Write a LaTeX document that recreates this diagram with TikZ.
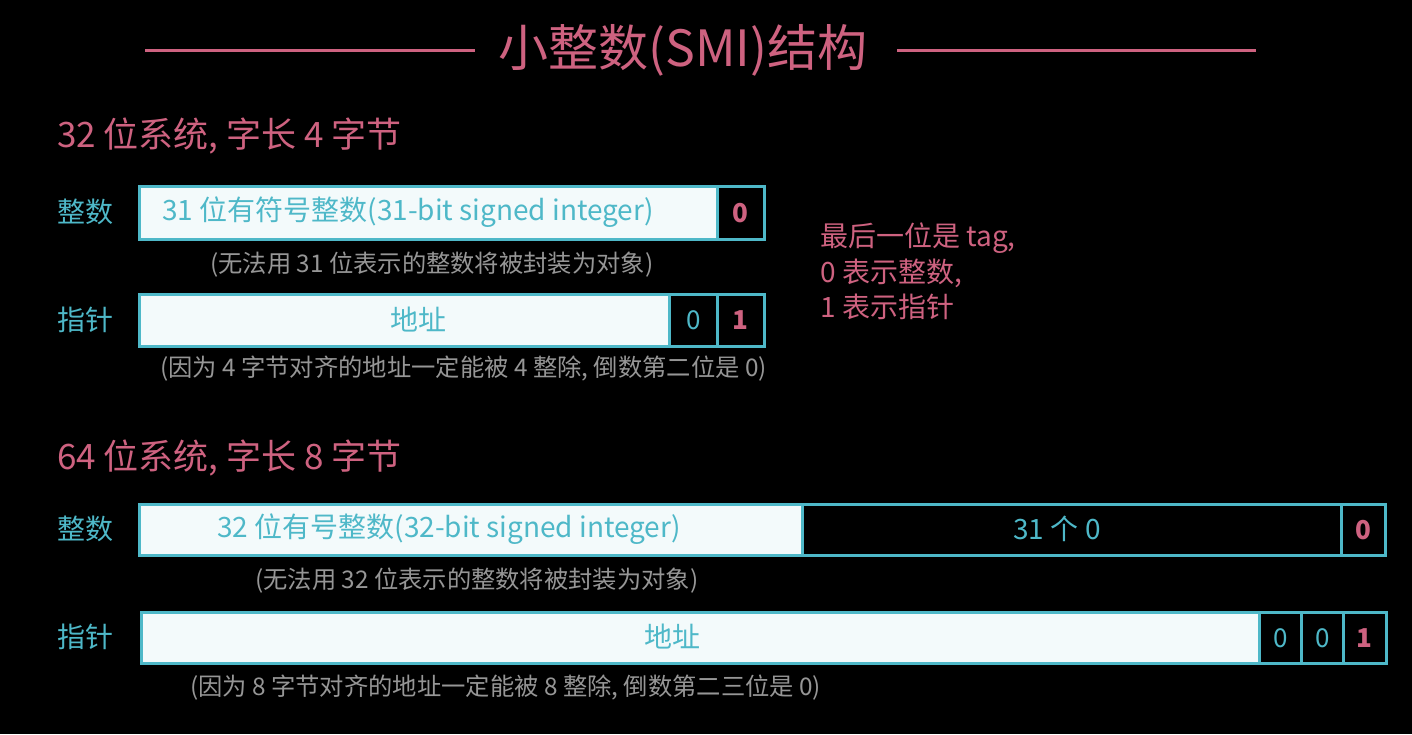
\documentclass[tikz,border=0pt]{standalone}
\usepackage{fontspec}
\setmainfont{Noto Sans CJK SC}
\definecolor{smipink}{RGB}{206,98,128}
\definecolor{smiteal}{RGB}{78,184,200}
\definecolor{smigray}{RGB}{150,150,150}
\definecolor{smiwhite}{RGB}{243,250,251}
\newcommand{\fs}[1]{\fontsize{#1}{#1}\selectfont}
\tikzset{
  cell/.style={draw=smiteal,line width=2.5pt,inner sep=0pt,anchor=north west},
  bitcell/.style={cell,fill=black,text=smiteal,font=\fs{26}},
  tagcell/.style={cell,fill=black,text=smipink,font=\fs{26}\bfseries},
  celltext/.style={text=smiteal,font=\fs{28},inner sep=0pt},
  rowlabel/.style={text=smiteal,font=\fs{28},inner sep=0pt,anchor=west},
  heading/.style={text=smipink,font=\fs{35},inner sep=0pt,anchor=west},
  note/.style={text=smigray,font=\fs{24.3},inner sep=0pt,anchor=west}
}
\begin{document}
\begin{tikzpicture}[x=1pt,y=-1pt]
    % 背景
    \fill[black] (0,0) rectangle (1412,734);

    % タイトル
    \node[text=smipink,font=\fs{50},inner sep=0pt] (title) at (683,50) {小整数(SMI)结构};
    \coordinate (tl) at (145,50);
    \coordinate (tr) at (1256,50);
    \draw[smipink,line width=3pt] (tl) -- (title.west-|475,0);
    \draw[smipink,line width=3pt] (title.east-|897,0) -- (tr);

    % 32 ビット
    \node[heading] (h32) at (57,136) {32 位系统, 字长 4 字节};

    % 整数
    \node[rowlabel] (int32) at (57,212) {整数};
    \node[cell,fill=smiwhite,minimum width=578pt,minimum height=53pt] (int32val) at (138,185) {};
    \node[celltext,anchor=west] (int32txt) at (162,212) {31 位有符号整数(31-bit signed integer)};
    \node[tagcell,minimum width=47pt,minimum height=53pt] (int32tag) at (716,185) {0};
    \node[note] (int32note) at (210,265) {(无法用 31 位表示的整数将被封装为对象)};

    % ポインタ
    \node[rowlabel] (ptr32) at (57,320) {指针};
    \node[cell,fill=smiwhite,minimum width=530pt,minimum height=52pt] (ptr32addr) at (138,293) {};
    \node[celltext] (ptr32txt) at (418,320) {地址};
    \node[bitcell,minimum width=48pt,minimum height=52pt] (ptr32b1) at (668,293) {0};
    \node[tagcell,minimum width=47pt,minimum height=52pt] (ptr32tag) at (716,293) {1};
    \node[note] (ptr32note) at (160,369) {(因为 4 字节对齐的地址一定能被 4 整除, 倒数第二位是 0)};

    % tag の説明
    \node[text=smipink,font=\fs{28},align=left,inner sep=0pt,anchor=north west] (tagnote) at (820,223)
      {最后一位是 tag,\\[4.5pt]0 表示整数,\\[4.5pt]1 表示指针};

    % 64 ビット
    \node[heading] (h64) at (57,458) {64 位系统, 字长 8 字节};

    % 整数
    \node[rowlabel] (int64) at (57,529) {整数};
    \node[cell,fill=smiwhite,minimum width=663pt,minimum height=51pt] (int64val) at (138,503) {};
    \node[celltext,anchor=west] (int64txt) at (217,529) {32 位有号整数(32-bit signed integer)};
    \node[bitcell,minimum width=539pt,minimum height=51pt] (int64pad) at (801,503) {};
    \node[celltext] (int64padtxt) at (1057,529) {31 个 0};
    \node[tagcell,minimum width=44pt,minimum height=51pt] (int64tag) at (1340,503) {0};
    \node[note] (int64note) at (255,581) {(无法用 32 位表示的整数将被封装为对象)};

    % ポインタ
    \node[rowlabel] (ptr64) at (57,637) {指针};
    \node[cell,fill=smiwhite,minimum width=1118pt,minimum height=51pt] (ptr64addr) at (140,611) {};
    \node[celltext] (ptr64txt) at (672,637) {地址};
    \node[bitcell,minimum width=42pt,minimum height=51pt] (ptr64b2) at (1258,611) {0};
    \node[bitcell,minimum width=42pt,minimum height=51pt] (ptr64b1) at (1300,611) {0};
    \node[tagcell,minimum width=43pt,minimum height=51pt] (ptr64tag) at (1342,611) {1};
    \node[note] (ptr64note) at (190,688) {(因为 8 字节对齐的地址一定能被 8 整除, 倒数第二三位是 0)};

  \end{tikzpicture}
\end{document}
